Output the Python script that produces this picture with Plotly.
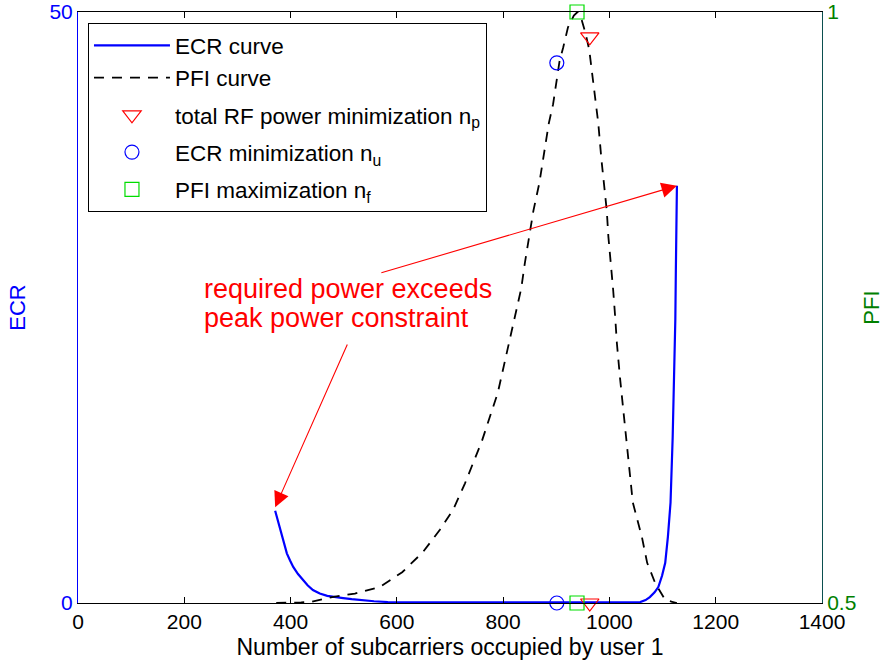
import plotly.graph_objects as go

# ---------------- data ----------------
ecr_x = [371, 376, 380, 387, 393, 399, 405, 414, 423, 432, 442, 455, 469, 484, 499, 515, 531,
         557, 583, 600, 700, 800, 900, 1000, 1058, 1068, 1076, 1085, 1092, 1099, 1105, 1110,
         1115, 1119, 1122, 1124, 1125, 1126, 1127]
ecr_y = [7.8, 7.0, 6.2, 5.1, 4.2, 3.6, 3.05, 2.45, 1.95, 1.5, 1.1, 0.8, 0.6, 0.48, 0.42, 0.33, 0.25,
         0.15, 0.08, 0.06, 0.05, 0.05, 0.05, 0.05, 0.08, 0.25, 0.5, 0.9, 1.35, 2.3, 3.4, 5.6,
         8.5, 14.0, 19.7, 24.0, 28.2, 32.0, 35.3]

pfi_x = [373, 400, 420, 440, 460, 478, 521, 568, 610, 649, 681, 706, 728, 760, 790, 813, 824,
         834, 841, 849, 857, 868, 877, 886, 894, 901, 906, 913, 922, 933, 940, 948, 955, 962,
         967, 975, 979, 985, 990, 995, 998, 1003, 1007, 1011, 1014, 1020, 1026, 1035, 1044,
         1061, 1071, 1086, 1105, 1118, 1127]
pfi_y = [0.5, 0.5, 0.5005, 0.501, 0.503, 0.505, 0.508, 0.5135, 0.526, 0.543, 0.562, 0.579, 0.601,
         0.637, 0.678, 0.724, 0.745, 0.766, 0.788, 0.811, 0.832, 0.855, 0.88, 0.906, 0.922,
         0.945, 0.958, 0.970, 0.987, 0.997, 1.0, 0.993, 0.982, 0.968, 0.95, 0.925, 0.906,
         0.875, 0.855, 0.832, 0.81, 0.788, 0.765, 0.741, 0.72, 0.69, 0.663, 0.627, 0.585,
         0.556, 0.534, 0.517, 0.5025, 0.501, 0.5]

# optimal points: (n, ECR, PFI)
np_pt = (963, 0.0, 0.979)   # total RF power minimization
nu_pt = (901, 0.0, 0.957)   # ECR minimization
nf_pt = (939, 0.0, 1.0)     # PFI maximization

x_ticks = [0, 200, 400, 600, 800, 1000, 1200, 1400]
ecr_ticks = [0, 50]
pfi_ticks = [0.5, 1]

# annotation text lines and arrows (data coords on ECR axis)
note_lines = ["required power exceeds", "peak power constraint"]
note_pos = [(233, 26.6), (233, 24.15)]
arrow_up = (568, 27.9, 1127, 35.3)
arrow_down = (508, 22.0, 371, 8.1)

FONT = "Arial, Liberation Sans, Helvetica, sans-serif"
BLUE = "#0000ff"
GREEN = "#008000"
RED = "#ff0000"

fig = go.Figure()

fig.add_trace(go.Scatter(x=ecr_x, y=ecr_y, mode="lines", name="ECR curve",
                         line=dict(color=BLUE, width=2.2), legendgroup="a", yaxis="y"))
fig.add_trace(go.Scatter(x=pfi_x, y=pfi_y, mode="lines", name="PFI curve",
                         line=dict(color="black", width=1.8, dash="10px,8px"),
                         legendgroup="a", yaxis="y2"))

def marker_pair(pt, name, symbol, color, group, size):
    mk = dict(symbol=symbol, size=size, color=color, line=dict(color=color, width=1.2))
    fig.add_trace(go.Scatter(x=[pt[0]], y=[pt[2]], mode="markers", name=name, marker=mk,
                             legendgroup=group, yaxis="y2", cliponaxis=False))
    fig.add_trace(go.Scatter(x=[pt[0]], y=[pt[1]], mode="markers", name=name, marker=mk,
                             legendgroup=group, showlegend=False, yaxis="y", cliponaxis=False))

marker_pair(np_pt, "total RF power minimization n<sub>p</sub>", "triangle-down-open", RED, "c", 16)
marker_pair(nu_pt, "ECR minimization n<sub>u</sub>", "circle-open", BLUE, "d", 14)
marker_pair(nf_pt, "PFI maximization n<sub>f</sub>", "square-open", "#00dd00", "e", 14)

annotations = []
for txt, (tx, ty) in zip(note_lines, note_pos):
    annotations.append(dict(x=tx, y=ty, xref="x", yref="y", xanchor="left", yanchor="middle",
                            text=txt, showarrow=False,
                            font=dict(family=FONT, size=27, color=RED)))
for (x0, y0, x1, y1) in (arrow_up, arrow_down):
    annotations.append(dict(x=x1, y=y1, ax=x0, ay=y0, xref="x", yref="y", axref="x", ayref="y",
                            text="", showarrow=True, arrowhead=2, arrowsize=2.8,
                            arrowwidth=1.1, arrowcolor=RED, standoff=0))

fig.update_layout(
    width=888, height=671,
    margin=dict(l=78, r=66, t=12, b=68, autoexpand=False),
    paper_bgcolor="white", plot_bgcolor="white",
    font=dict(family=FONT, size=21, color="black"),
    showlegend=True,
    legend=dict(x=0.0134, y=0.981, xanchor="left", yanchor="top",
                bgcolor="white", bordercolor="black", borderwidth=1,
                font=dict(family=FONT, size=22.5, color="black"),
                itemwidth=76, tracegroupgap=5, traceorder="grouped"),
    xaxis=dict(range=[0, 1400], tickvals=x_ticks, ticks="inside", ticklen=6,
               tickcolor="black", showline=True, linecolor="black", linewidth=1,
               mirror="ticks", showgrid=False, zeroline=False, automargin=False,
               title=dict(text="Number of subcarriers occupied by user 1",
                          font=dict(size=23), standoff=6),
               tickfont=dict(size=21)),
    yaxis=dict(range=[0, 50], tickvals=ecr_ticks, ticks="inside", ticklen=6,
               tickcolor=BLUE, showline=True, linecolor=BLUE, linewidth=1,
               showgrid=False, zeroline=False, automargin=False,
               title=dict(text="ECR", font=dict(color=BLUE, size=22), standoff=17),
               tickfont=dict(color=BLUE, size=21)),
    yaxis2=dict(range=[0.5, 1], tickvals=pfi_ticks, ticktext=["0.5", "1"],
                overlaying="y", side="right", ticks="inside", ticklen=6,
                tickcolor=GREEN, showline=True, linecolor="#0b4f4f", linewidth=1,
                showgrid=False, zeroline=False, automargin=False,
                title=dict(text="PFI", font=dict(color=GREEN, size=22), standoff=8),
                tickfont=dict(color=GREEN, size=21)),
    annotations=annotations,
)

fig.write_html("out.html")
